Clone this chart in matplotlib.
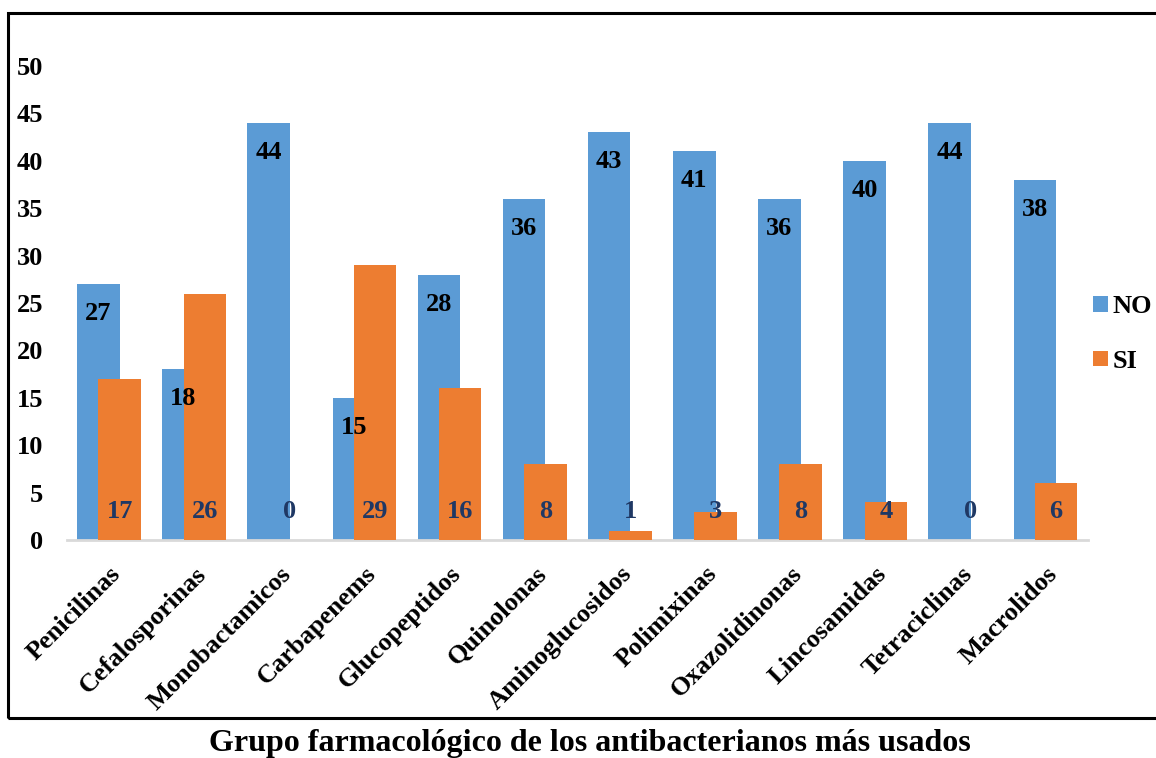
import matplotlib.pyplot as plt
import numpy as np
from matplotlib.patches import Rectangle

plt.rcParams['font.family'] = ['Liberation Serif', 'DejaVu Serif']
plt.rcParams['font.weight'] = 'bold'

# Data
categories = ['Penicilinas', 'Cefalosporinas', 'Monobactamicos', 'Carbapenems',
              'Glucopeptidos', 'Quinolonas', 'Aminoglucosidos', 'Polimixinas',
              'Oxazolidinonas', 'Lincosamidas', 'Tetraciclinas', 'Macrolidos']
no_values = [27, 18, 44, 15, 28, 36, 43, 41, 36, 40, 44, 38]
si_values = [17, 26, 0, 29, 16, 8, 1, 3, 8, 4, 0, 6]

blue = '#5B9BD5'
orange = '#ED7D31'
navy = '#1F3864'

fig = plt.figure(figsize=(11.56, 7.58), dpi=100)
ax = fig.add_axes([66.5 / 1156, 1 - 540 / 758, (1088 - 66.5) / 1156, (540 - 66) / 758])

x = np.arange(len(categories))
w = 0.5
ax.bar(x - 0.125, no_values, w, color=blue, label='NO', zorder=2)
ax.bar(x + 0.125, si_values, w, color=orange, label='SI', zorder=3)

# Data labels
for xi, v in zip(x, no_values):
    ax.annotate(str(v), (xi - 0.125, v), xytext=(0, -13), textcoords='offset points',
                ha='center', va='top', fontsize=19, fontweight='bold', color='black', zorder=5)
for xi, v in zip(x, si_values):
    ax.annotate(str(v), (xi + 0.125, 0), xytext=(0, 12), textcoords='offset points',
                ha='center', va='bottom', fontsize=19, fontweight='bold', color=navy, zorder=5)

ax.set_xlim(-0.5, len(categories) - 0.5)
ax.set_ylim(0, 50)
ax.set_yticks(range(0, 51, 5))
ax.set_xticks(x)
ax.set_xticklabels(categories, rotation=45, ha='right', va='top', rotation_mode='anchor')
ax.tick_params(axis='y', length=0, pad=17, labelsize=19)
ax.tick_params(axis='x', length=0, pad=16, labelsize=19)

for s in ['top', 'right', 'left']:
    ax.spines[s].set_visible(False)
ax.spines['bottom'].set_color('#D9D9D9')
ax.spines['bottom'].set_linewidth(2)

fig.legend(loc='center left', bbox_to_anchor=(1093 / 1156, 1 - 334 / 758), frameon=False,
           fontsize=19, handlelength=0.55, handleheight=0.55, handletextpad=0.2,
           labelspacing=1.2, borderpad=0, borderaxespad=0)

# Frame around chart area
fig.patches.append(Rectangle((8 / 1156, 1 - 718 / 758), 1.2, (718 - 13) / 758,
                             transform=fig.transFigure, fill=False, edgecolor='black',
                             linewidth=2.2, clip_on=False))

fig.text(590 / 1156, 1 - 744 / 758, 'Grupo farmacológico de los antibacterianos más usados',
         ha='center', va='center', fontsize=23, fontweight='bold')

fig.savefig('out.png', dpi=100)
